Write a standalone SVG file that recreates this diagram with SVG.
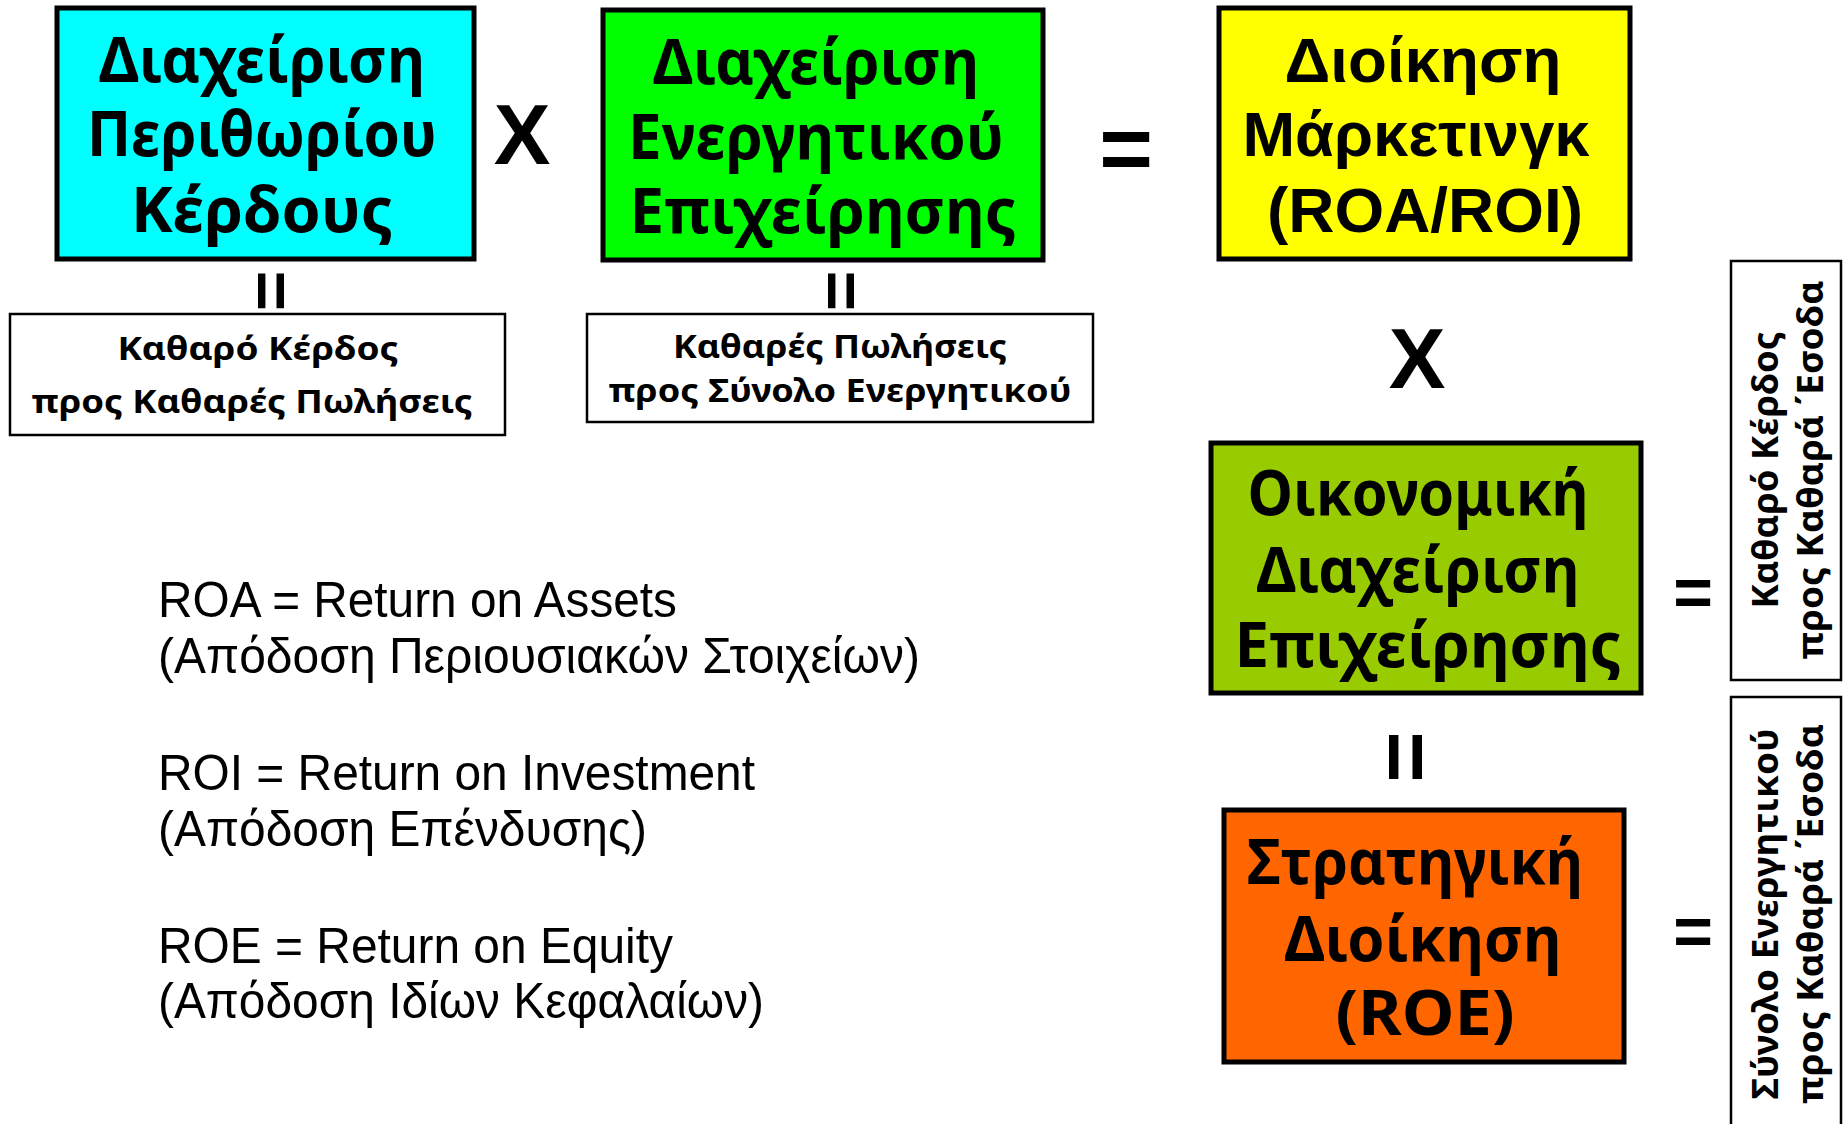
<svg xmlns="http://www.w3.org/2000/svg" width="1844" height="1124" viewBox="0 0 1844 1124">
<style>
.box{stroke:#000;stroke-width:5}
.wbox{fill:#fff;stroke:#000;stroke-width:2.5}
.t{font-family:"Noto Sans","Open Sans","DejaVu Sans",sans-serif;font-weight:bold;font-size:63px;text-anchor:middle;fill:#000}
.ta{font-family:"Liberation Sans",Arial,sans-serif;font-weight:bold;font-size:63px;text-anchor:middle;fill:#000}
.s{font-family:"Noto Sans","Open Sans","DejaVu Sans",sans-serif;font-weight:bold;font-size:33px;text-anchor:middle;fill:#000}
.v{font-family:"Noto Sans","Open Sans","DejaVu Sans",sans-serif;font-weight:bold;font-size:36px;text-anchor:middle;fill:#000}
.op{font-family:"Liberation Sans",Arial,sans-serif;font-weight:bold;text-anchor:middle;fill:#000}
.n{font-family:"Liberation Sans",Arial,sans-serif;font-size:50px;fill:#000}
</style>
<rect width="1844" height="1124" fill="#fff"/>

<g id="margin">
<rect class="box" x="57" y="8" width="417" height="251" fill="#00FFFF"/>
<text class="t" x="262" y="82" textLength="326" lengthAdjust="spacingAndGlyphs">Διαχείριση</text>
<text class="t" x="262" y="156" textLength="350" lengthAdjust="spacingAndGlyphs">Περιθωρίου</text>
<text class="t" x="262" y="232" textLength="262" lengthAdjust="spacingAndGlyphs">Κέρδους</text>
</g>

<g id="assets">
<rect class="box" x="603" y="10" width="440" height="250" fill="#00FF00"/>
<text class="t" x="816" y="84" textLength="326" lengthAdjust="spacingAndGlyphs">Διαχείριση</text>
<text class="t" x="816" y="159" textLength="376" lengthAdjust="spacingAndGlyphs">Ενεργητικού</text>
<text class="t" x="823" y="233" textLength="387" lengthAdjust="spacingAndGlyphs">Επιχείρησης</text>
</g>

<g id="marketing">
<rect class="box" x="1219" y="8" width="411" height="251" fill="#FFFF00"/>
<text class="ta" x="1423" y="82" textLength="277" lengthAdjust="spacingAndGlyphs">Διοίκηση</text>
<text class="ta" x="1416" y="156" textLength="347" lengthAdjust="spacingAndGlyphs">Μάρκετινγκ</text>
<text class="ta" x="1425" y="232" textLength="316" lengthAdjust="spacingAndGlyphs">(ROA/ROI)</text>
</g>

<g id="ratio1">
<rect class="wbox" x="10" y="314" width="495" height="121"/>
<text class="s" x="258" y="360" textLength="281" lengthAdjust="spacingAndGlyphs">Καθαρό Κέρδος</text>
<text class="s" x="252" y="413" textLength="441" lengthAdjust="spacingAndGlyphs">προς Καθαρές Πωλήσεις</text>
</g>

<g id="ratio2">
<rect class="wbox" x="587" y="314" width="506" height="108"/>
<text class="s" x="840" y="358" textLength="334" lengthAdjust="spacingAndGlyphs">Καθαρές Πωλήσεις</text>
<text class="s" x="840" y="402" textLength="463" lengthAdjust="spacingAndGlyphs">προς Σύνολο Ενεργητικού</text>
</g>

<g id="financial">
<rect class="box" x="1211" y="443" width="430" height="250" fill="#99CC00"/>
<text class="t" x="1418" y="515" textLength="341" lengthAdjust="spacingAndGlyphs">Οικονομική</text>
<text class="t" x="1418" y="592" textLength="323" lengthAdjust="spacingAndGlyphs">Διαχείριση</text>
<text class="t" x="1428" y="667" textLength="387" lengthAdjust="spacingAndGlyphs">Επιχείρησης</text>
</g>

<g id="strategic">
<rect class="box" x="1224" y="810" width="400" height="252" fill="#FF6600"/>
<text class="t" x="1415" y="884" textLength="336" lengthAdjust="spacingAndGlyphs">Στρατηγική</text>
<text class="t" x="1423" y="961" textLength="277" lengthAdjust="spacingAndGlyphs">Διοίκηση</text>
<text class="t" x="1425" y="1035" textLength="179" lengthAdjust="spacingAndGlyphs">(ROE)</text>
</g>

<g id="ratio3">
<rect class="wbox" x="1731" y="261" width="110" height="419"/>
<text class="v" transform="translate(1778,470) rotate(-90)" textLength="277" lengthAdjust="spacingAndGlyphs">Καθαρό Κέρδος</text>
<text class="v" transform="translate(1823,470) rotate(-90)" textLength="379" lengthAdjust="spacingAndGlyphs">προς Καθαρά ΄Εσοδα</text>
</g>

<g id="ratio4">
<rect class="wbox" x="1731" y="697" width="110" height="440"/>
<text class="v" transform="translate(1778,914) rotate(-90)" textLength="371" lengthAdjust="spacingAndGlyphs">Σύνολο Ενεργητικού</text>
<text class="v" transform="translate(1823,914) rotate(-90)" textLength="380" lengthAdjust="spacingAndGlyphs">προς Καθαρά ΄Εσοδα</text>
</g>

<g id="legend">
<text class="n" x="158" y="617" textLength="519" lengthAdjust="spacingAndGlyphs">ROA = Return on Assets</text>
<text class="n" x="158" y="673" textLength="762" lengthAdjust="spacingAndGlyphs">(Απόδοση Περιουσιακών Στοιχείων)</text>
<text class="n" x="158" y="790" textLength="597" lengthAdjust="spacingAndGlyphs">ROI = Return on Investment</text>
<text class="n" x="158" y="846" textLength="489" lengthAdjust="spacingAndGlyphs">(Απόδοση Επένδυσης)</text>
<text class="n" x="158" y="963" textLength="515" lengthAdjust="spacingAndGlyphs">ROE = Return on Equity</text>
<text class="n" x="158" y="1018" textLength="606" lengthAdjust="spacingAndGlyphs">(Απόδοση Ιδίων Κεφαλαίων)</text>
</g>

<g id="connectors">
<text class="op" x="522" y="164" font-size="85">X</text>
<text class="op" x="1417" y="388" font-size="85">X</text>
<text class="op" x="1126" y="180" font-size="92">=</text>
<text class="op" x="1693" y="616" font-size="68">=</text>
<text class="op" x="1693" y="955" font-size="68">=</text>
<text class="op" transform="translate(273,291) rotate(90)" y="25" font-size="69">=</text>
<text class="op" transform="translate(843,291) rotate(90)" y="25" font-size="69">=</text>
<text class="op" transform="translate(1409,757) rotate(90)" y="32" font-size="88">=</text>
</g>
</svg>
